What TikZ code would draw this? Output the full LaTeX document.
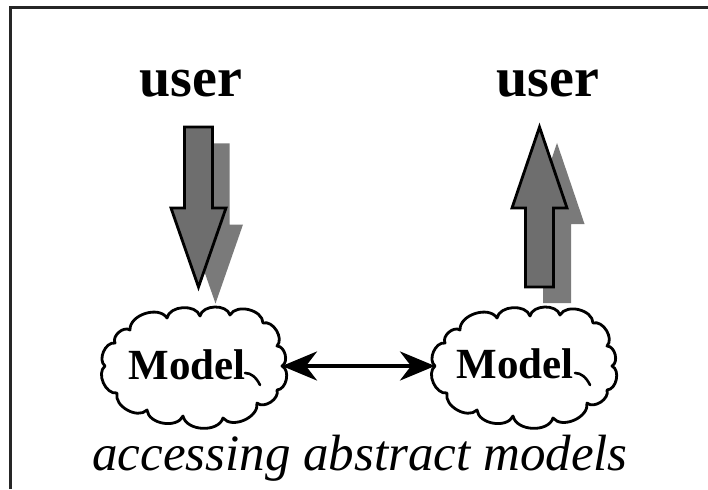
\documentclass[tikz,border=0pt]{standalone}
\usepackage{fontspec}
\setmainfont{Liberation Serif}
\usetikzlibrary{arrows.meta}
\tikzset{
  frame/.style={line width=3pt, draw=black!85},
  blockarrow/.style={draw=black, line width=2.8pt, fill=black!57, line join=miter},
  blockshadow/.style={fill=black!52, draw=none},
  cloudline/.style={draw=black, line width=2.8pt, fill=white, line join=round},
  curlline/.style={draw=black, line width=2.6pt, line cap=round},
  userlabel/.style={font=\fontsize{56}{60}\selectfont\bfseries, anchor=base, inner sep=0pt},
  modellabel/.style={font=\fontsize{43}{46}\selectfont\bfseries, anchor=base, inner sep=0pt},
  captionlabel/.style={font=\fontsize{51}{55}\selectfont\itshape, anchor=base, inner sep=0pt},
  link/.style={line width=4pt,
    {Stealth[length=35pt,width=29pt,inset=11pt]}-{Stealth[length=35pt,width=29pt,inset=11pt]}},
  puff/.style={bend left=75},
  cloudpic/.pic={
    \draw[cloudline] (-89,0) to[puff] (-79,-23) to[puff] (-64,-36)
      to[puff] (-27,-48) to[puff] (6,-50) to[puff] (36,-51)
      to[puff] (69,-43) to[puff] (83,-20) to[puff] (88,0)
      to[puff] (83,24) to[puff] (63,37) to[puff] (29,52)
      to[puff] (-11,50) to[puff] (-47,44) to[puff] (-77,27)
      to[puff] cycle;
    \draw[curlline] (51,7) .. controls (57,7) and (62,11) .. (66,19);
    \coordinate (-west) at (-89,0);
    \coordinate (-east) at (88,0);
  }
}
\begin{document}
\begin{tikzpicture}[x=1pt,y=-1pt]
  \useasboundingbox (0,0) rectangle (708,489);
  \fill[white] (0,0) rectangle (708,489);
  \draw[frame] (10,489) -- (10,8) -- (708,8);

  % labels on top
  \node[userlabel] (userL) at (191,97) {user};
  \node[userlabel] (userR) at (548,97) {user};

  % downward block arrow with its shadow
  \begin{scope}[shift={(17,16.5)}]
    \fill[blockshadow] (184.5,127) -- (212.5,127) -- (212.5,208) -- (226,208)
      -- (198.5,287) -- (171,208) -- (184.5,208) -- cycle;
  \end{scope}
  \draw[blockarrow] (184.5,127) -- (212.5,127) -- (212.5,208) -- (226,208)
    -- (198.5,287) -- (171,208) -- (184.5,208) -- cycle;

  % upward block arrow with its shadow
  \begin{scope}[shift={(17.5,16)}]
    \fill[blockshadow] (539.5,127) -- (567,208) -- (553.5,208) -- (553.5,287)
      -- (525.5,287) -- (525.5,208) -- (512,208) -- cycle;
  \end{scope}
  \draw[blockarrow] (539.5,127) -- (567,208) -- (553.5,208) -- (553.5,287)
    -- (525.5,287) -- (525.5,208) -- (512,208) -- cycle;

  % the two model clouds
  \pic (lc) at (194,366) {cloudpic};
  \pic (rc) at (524,366) {cloudpic};
  \node[modellabel] (modelL) at (187,379) {Model};
  \node[modellabel] (modelR) at (515,378) {Model};

  % link between the models
  \draw[link] (lc-east) -- (rc-west);

  \node[captionlabel] (caption) at (360,470) {accessing abstract models};
\end{tikzpicture}
\end{document}
